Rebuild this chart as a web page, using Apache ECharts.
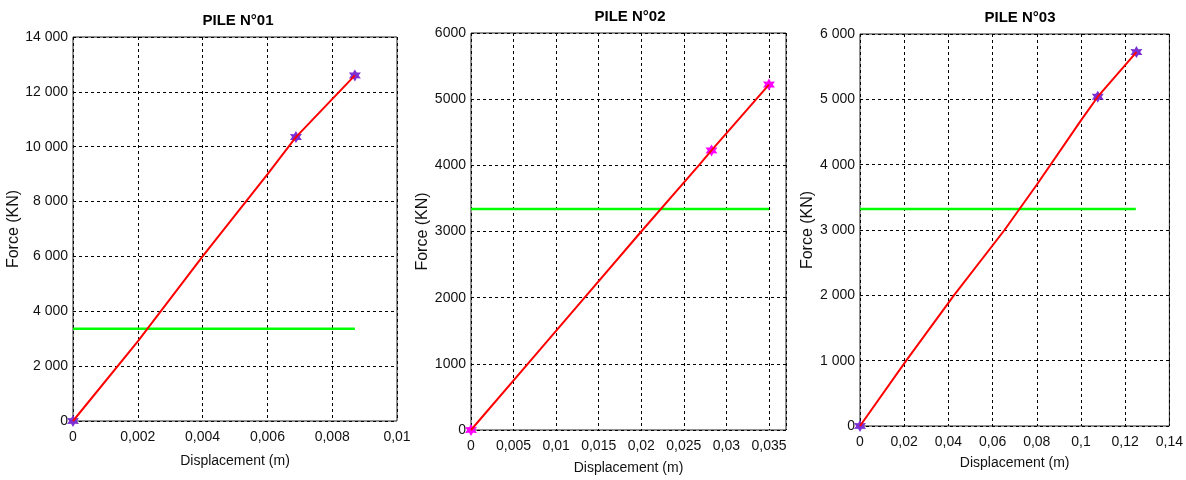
<!DOCTYPE html>
<html>
<head>
<meta charset="utf-8">
<title>Piles - Force / Displacement</title>
<script src="https://cdn.jsdelivr.net/npm/echarts@6/dist/echarts.min.js"></script>
<style>
  html, body { margin: 0; padding: 0; background: #fff; }
  #chart { width: 1186px; height: 480px; }
</style>
</head>
<body>
<div id="chart"></div>
<script>
// pile titles
var pileNames = ['PILE N°01', 'PILE N°02', 'PILE N°03']

// load curves (displacement m, force kN)
var pile1Disp = [0, 0.002, 0.004, 0.006, 0.00688, 0.0087]
var pile1Force = [0, 2900, 6000, 8990, 10350, 12600]
var pile2Disp = [0, 0.00667, 0.01334, 0.02, 0.02676, 0.02825, 0.035]
var pile2Force = [0, 1000, 2000, 3000, 4000, 4225, 5220]
var pile3Disp = [0, 0.0209, 0.0425, 0.0654, 0.08, 0.1, 0.1076, 0.1251]
var pile3Force = [0, 1000, 2000, 3000, 3692, 4677, 5040, 5724]

// starred points
var pile1StarDisp = [0, 0.00688, 0.0087]
var pile1StarForce = [0, 10350, 12600]
var pile2StarDisp = [0, 0.02825, 0.035]
var pile2StarForce = [0, 4225, 5220]
var pile3StarDisp = [0, 0.1076, 0.1251]
var pile3StarForce = [0, 5040, 5724]

// green reference level (force) and where it stops
var refForce = [3360, 3340, 3320]
var refEndDisp = [0.0087, 0.035, 0.1248]

// axes
var xMax = [0.01, 0.037, 0.14]
var xStep = [0.002, 0.005, 0.02]
var yMax = [14000, 6000, 6000]
var yStep = [2000, 1000, 1000]

var curvesDisp = [pile1Disp, pile2Disp, pile3Disp]
var curvesForce = [pile1Force, pile2Force, pile3Force]
var starsDisp = [pile1StarDisp, pile2StarDisp, pile3StarDisp]
var starsForce = [pile1StarForce, pile2StarForce, pile3StarForce]

var font = "'Liberation Sans', Arial, sans-serif"
var starColors = ['#7b2fd4', '#ff00ff', '#7b2fd4']

// layout of each panel
var grids = [
  { left: 73, top: 37, width: 324, height: 384 },
  { left: 471, top: 33, width: 315, height: 397 },
  { left: 860, top: 34, width: 313, height: 392 }
]
var titleX = [233, 625, 1015]
var titleY = [8, 4, 5]
var yNameGap = [50, 36, 40]
var xNameGap = [33, 31, 30]
var spaceThousands = [true, false, true]

function starPath() {
  var pts = []
  for (var k = 0; k < 12; k++) {
    var a = k * Math.PI / 6 - Math.PI / 2
    var r = k % 2 === 0 ? 10 : 5.5
    pts.push((10 + r * Math.cos(a)).toFixed(2) + ' ' + (10 + r * Math.sin(a)).toFixed(2))
  }
  return 'path://M' + pts.join(' L') + ' Z'
}

function zip(xs, ys) {
  return xs.map(function(x, i) { return [x, ys[i]] })
}

function fmtX(v) {
  return String(+v.toFixed(4)).replace('.', ',')
}

function fmtY(withSpace) {
  return function(v) {
    var s = String(Math.round(v))
    if (withSpace) s = s.replace(/\B(?=(\d{3})+(?!\d))/g, ' ')
    return s
  }
}

var chart = echarts.init(document.getElementById('chart'))
var star = starPath()

var option = {
  animation: false,
  backgroundColor: '#fff',
  title: [],
  grid: [],
  xAxis: [],
  yAxis: [],
  series: []
}

for (var i = 0; i < 3; i++) {
  option.title.push({
    text: pileNames[i],
    left: titleX[i],
    top: titleY[i],
    textAlign: 'center',
    textStyle: { fontFamily: font, fontSize: 15, fontWeight: 'bold', color: '#000' }
  })
  option.grid.push({
    left: grids[i].left,
    top: grids[i].top,
    width: grids[i].width,
    height: grids[i].height,
    show: true,
    borderColor: '#222',
    borderWidth: 1,
    backgroundColor: '#fff'
  })
  option.xAxis.push({
    type: 'value',
    gridIndex: i,
    min: 0,
    max: xMax[i],
    interval: xStep[i],
    name: 'Displacement (m)',
    nameLocation: 'middle',
    nameGap: xNameGap[i],
    nameTextStyle: { fontFamily: font, fontSize: 14, color: '#111' },
    axisLine: { show: false },
    axisTick: { show: false },
    axisLabel: {
      fontFamily: font,
      fontSize: 14,
      color: '#111',
      margin: 9,
      formatter: fmtX,
      showMaxLabel: i !== 1
    },
    splitLine: { show: true, lineStyle: { color: '#000', width: 1, type: [3, 3] } }
  })
  option.yAxis.push({
    type: 'value',
    gridIndex: i,
    min: 0,
    max: yMax[i],
    interval: yStep[i],
    name: 'Force (KN)',
    nameLocation: 'middle',
    nameGap: yNameGap[i],
    nameTextStyle: { fontFamily: font, fontSize: 16, color: '#111' },
    axisLine: { show: false },
    axisTick: { show: false },
    axisLabel: {
      fontFamily: font,
      fontSize: 14,
      color: '#111',
      margin: 5,
      formatter: fmtY(spaceThousands[i])
    },
    splitLine: { show: true, lineStyle: { color: '#000', width: 1, type: [3, 3] } }
  })
  option.series.push({
    type: 'line',
    xAxisIndex: i,
    yAxisIndex: i,
    showSymbol: false,
    silent: true,
    lineStyle: { color: '#00ff00', width: 2.5 },
    data: [[0, refForce[i]], [refEndDisp[i], refForce[i]]]
  })
  option.series.push({
    type: 'line',
    xAxisIndex: i,
    yAxisIndex: i,
    showSymbol: false,
    lineStyle: { color: '#ff0000', width: 2 },
    data: zip(curvesDisp[i], curvesForce[i])
  })
  option.series.push({
    type: 'scatter',
    xAxisIndex: i,
    yAxisIndex: i,
    symbol: star,
    symbolSize: 12,
    itemStyle: { color: starColors[i], opacity: 1 },
    data: zip(starsDisp[i], starsForce[i])
  })
}

chart.setOption(option)
</script>
</body>
</html>
